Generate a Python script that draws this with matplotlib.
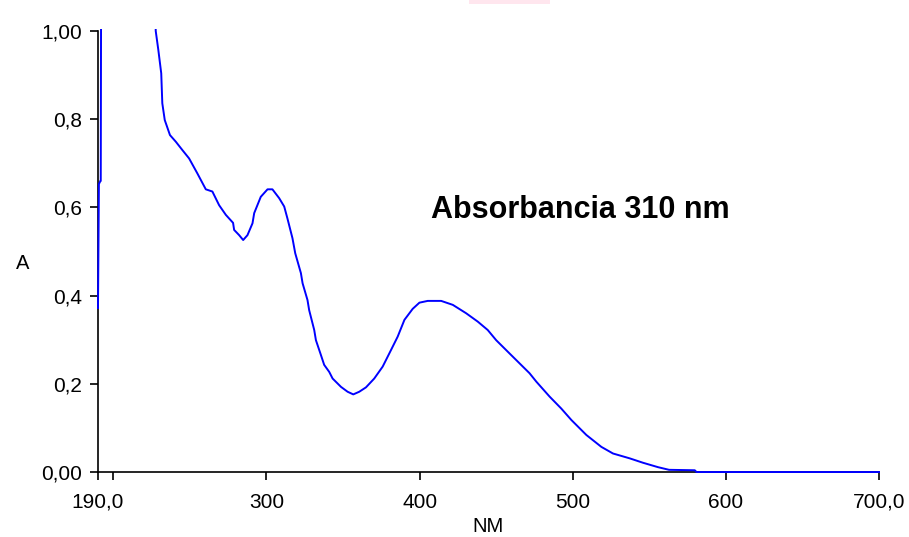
import matplotlib
matplotlib.use("Agg")
import matplotlib.pyplot as plt
from matplotlib.patches import Rectangle

plt.rcParams['font.family'] = ['Liberation Sans', 'DejaVu Sans']

# spectrum (values above 1 are off scale)
wavelength = [190.0, 190.6, 191.6, 191.8, 192.2, 226.5, 227.7, 229.4, 231.3, 232.0,
              233.6, 237.0, 240.8, 245.1, 249.5, 254.9, 260.4, 264.7, 269.1, 273.5,
              278.2, 278.9, 282.2, 284.8, 287.6, 290.9, 292.0, 296.3, 300.7, 303.9,
              308.3, 311.6, 313.7, 317.0, 318.8, 322.5, 323.6, 326.8, 327.9, 331.2,
              332.3, 335.6, 337.7, 341.0, 343.2, 348.7, 353.0, 356.7, 360.6, 365.0,
              370.4, 375.9, 381.4, 385.7, 390.1, 395.5, 399.9, 405.3, 414.1, 421.7,
              430.4, 438.0, 444.5, 450.0, 458.7, 471.8, 476.2, 484.9, 492.5, 499.1,
              508.9, 518.7, 526.3, 537.2, 545.9, 555.7, 562.9, 579.7, 580.8, 700.0]
absorb = [0.372, 0.653, 0.660, 0.660, 1.400, 1.400, 1.000, 0.957, 0.904, 0.836,
          0.798, 0.764, 0.749, 0.730, 0.711, 0.677, 0.641, 0.636, 0.605, 0.583,
          0.565, 0.549, 0.537, 0.526, 0.537, 0.564, 0.587, 0.624, 0.641, 0.641,
          0.621, 0.602, 0.575, 0.530, 0.496, 0.451, 0.428, 0.390, 0.367, 0.322,
          0.299, 0.265, 0.243, 0.227, 0.212, 0.193, 0.182, 0.176, 0.182, 0.192,
          0.212, 0.239, 0.277, 0.307, 0.345, 0.370, 0.384, 0.388, 0.388, 0.379,
          0.360, 0.341, 0.322, 0.299, 0.269, 0.224, 0.205, 0.171, 0.144, 0.118,
          0.084, 0.057, 0.042, 0.031, 0.021, 0.011, 0.005, 0.004, 0.000, 0.000]

xticks = [190, 200, 300, 400, 500, 600, 700]
xticklabels = ['190,0', '', '300', '400', '500', '600', '700,0']
yticks = [0.0, 0.2, 0.4, 0.6, 0.8, 1.0]
yticklabels = ['0,00', '0,2', '0,4', '0,6', '0,8', '1,00']

fig = plt.figure(figsize=(9.09, 5.37), dpi=100)
ax = fig.add_axes([0.1078, 0.121, 0.8592, 0.8213])

line, = ax.plot(wavelength, absorb, color='#0000ff', lw=1.4, zorder=3)
# let the trace sit on the axis lines instead of being cut at the edge
clip = Rectangle((-0.02, -0.02), 1.04, 1.025, transform=ax.transAxes)
line.set_clip_path(clip)

ax.set_xlim(190, 700)
ax.set_ylim(0, 1.0)
ax.set_xticks(xticks)
ax.set_xticklabels(xticklabels)
ax.set_yticks(yticks)
ax.set_yticklabels(yticklabels)

for s in ['top', 'right']:
    ax.spines[s].set_visible(False)
for s in ['left', 'bottom']:
    ax.spines[s].set_linewidth(1.2)
ax.tick_params(direction='out', length=6, width=1.2, labelsize=15)
ax.tick_params(axis='x', pad=9)
ax.tick_params(axis='y', pad=5.5)

ax.set_xlabel('NM', fontsize=14.5, labelpad=4)
fig.text(23 / 909, 1 - 264 / 537, 'A', fontsize=14.5, ha='center', va='center')

ax.text(407.5, 0.575, 'Absorbancia 310 nm', fontsize=22, fontweight='bold',
        va='baseline', ha='left')

# faint pink strip at the very top of the original
fig.patches.append(Rectangle((469 / 909, 1 - 4 / 537), 81 / 909, 4 / 537,
                             transform=fig.transFigure, color='#ffe6ee', lw=0))

fig.savefig('out.png', dpi=100)
